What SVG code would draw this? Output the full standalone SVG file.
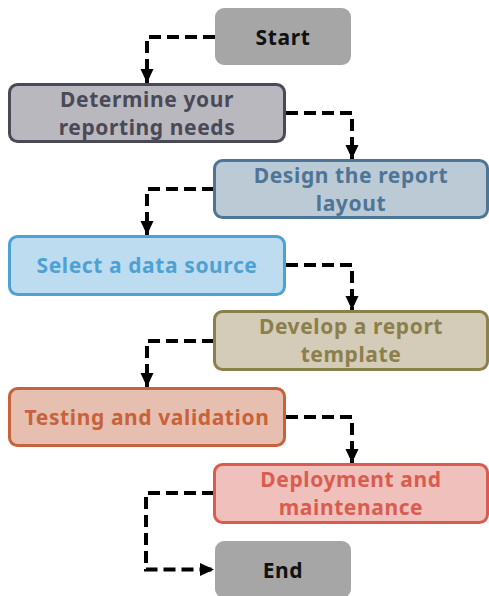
<svg xmlns="http://www.w3.org/2000/svg" width="489" height="596" viewBox="0 0 489 596">
  <style>
    .box { stroke-width: 3; }
    .term { fill: #a6a6a6; }
    .label { font-family: "Noto Sans", "Open Sans", sans-serif; font-weight: 700; font-size: 21px; text-anchor: middle; letter-spacing: 0.6px; }
    .link { fill: none; stroke: #000; stroke-width: 4; stroke-dasharray: 12 6; }
  </style>
  <defs>
    <marker id="arrow" markerUnits="userSpaceOnUse" markerWidth="16" markerHeight="16" viewBox="0 0 16 16" refX="15" refY="8" orient="auto">
      <path d="M1,1.5 L15,8 L1,14.5 Z" fill="#000"/>
    </marker>
  </defs>

  <g id="connectors">
    <path class="link" d="M215,37 H147 V83" marker-end="url(#arrow)"/>
    <path class="link" d="M286,113 H352 V159" marker-end="url(#arrow)"/>
    <path class="link" d="M214,189 H147 V235" marker-end="url(#arrow)"/>
    <path class="link" d="M286,265 H352 V310" marker-end="url(#arrow)"/>
    <path class="link" d="M214,341 H147 V387" marker-end="url(#arrow)"/>
    <path class="link" d="M286,417 H352 V463" marker-end="url(#arrow)"/>
    <path class="link" d="M214,493 H146 V569.5 H214" marker-end="url(#arrow)"/>
  </g>

  <g id="start">
    <rect class="term" x="215" y="8" width="136" height="57" rx="9"/>
    <text class="label" x="283" y="44.5" fill="#111">Start</text>
  </g>

  <g id="determine-needs">
    <rect class="box" x="9.5" y="84.5" width="275" height="57" rx="8" fill="#b9b8bf" stroke="#4a4958"/>
    <text class="label" x="147" y="107" fill="#4a4958">Determine your</text>
    <text class="label" x="147" y="135" fill="#4a4958">reporting needs</text>
  </g>

  <g id="design-layout">
    <rect class="box" x="214.5" y="160.5" width="273" height="57" rx="8" fill="#bccad6" stroke="#4e7595"/>
    <text class="label" x="351" y="183" fill="#4e7595">Design the report</text>
    <text class="label" x="351" y="211" fill="#4e7595">layout</text>
  </g>

  <g id="select-source">
    <rect class="box" x="9.5" y="236.5" width="275" height="58" rx="8" fill="#bddcef" stroke="#4ea1d4"/>
    <text class="label" x="147" y="273" fill="#4ea1d4">Select a data source</text>
  </g>

  <g id="develop-template">
    <rect class="box" x="214.5" y="311.5" width="273" height="58" rx="8" fill="#d4ccb8" stroke="#8b7f4b"/>
    <text class="label" x="351" y="334" fill="#8b7f4b">Develop a report</text>
    <text class="label" x="351" y="362" fill="#8b7f4b">template</text>
  </g>

  <g id="testing">
    <rect class="box" x="9.5" y="388.5" width="275" height="57" rx="8" fill="#e6bfb0" stroke="#c8623a"/>
    <text class="label" x="147" y="424.5" fill="#c8623a">Testing and validation</text>
  </g>

  <g id="deployment">
    <rect class="box" x="214.5" y="464.5" width="273" height="58" rx="8" fill="#f0c0bc" stroke="#d85d50"/>
    <text class="label" x="351" y="487" fill="#d85d50">Deployment and</text>
    <text class="label" x="351" y="515" fill="#d85d50">maintenance</text>
  </g>

  <g id="end">
    <rect class="term" x="215" y="541" width="136" height="57" rx="9"/>
    <text class="label" x="283" y="577.5" fill="#111">End</text>
  </g>
</svg>
